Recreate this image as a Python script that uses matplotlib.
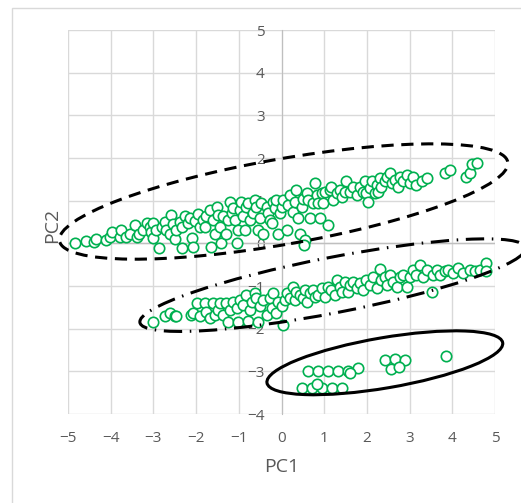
import matplotlib
matplotlib.use("Agg")
import matplotlib.pyplot as plt
import matplotlib.patches as patches

plt.rcParams['font.family'] = ['Open Sans', 'DejaVu Sans']

# Groupe du haut
pc1_haut = [-4.84, -4.59, -4.39, -4.34, -4.12, -4.02, -3.98, -3.79, -3.75, -3.63, -3.55, -3.44, -3.38, -3.34,
            -3.24, -3.16, -3.09, -3.05, -3.02, -3.01, -2.93, -2.87, -2.81, -2.73, -2.70, -2.62, -2.58, -2.54,
            -2.50, -2.46, -2.38, -2.34, -2.32, -2.27, -2.19, -2.15, -2.09, -2.07, -2.03, -1.95, -1.91, -1.84,
            -1.80, -1.76, -1.68, -1.64, -1.60, -1.56, -1.52, -1.48, -1.45, -1.41, -1.37, -1.29, -1.25, -1.21,
            -1.17, -1.13, -1.09, -1.05, -1.02, -0.98, -0.94, -0.90, -0.86, -0.82, -0.78, -0.74, -0.66, -0.63,
            -0.59, -0.55, -0.51, -0.47, -0.43, -0.35, -0.31, -0.27, -0.23, -0.20, -0.16, -0.12, -0.08, -0.04,
            0.00, 0.04, 0.12, 0.16, 0.20, 0.27, 0.31, 0.35, 0.39, 0.43, 0.47, 0.51, 0.55, 0.59, 0.63, 0.66,
            0.74, 0.78, 0.82, 0.86, 0.90, 0.94, 0.98, 1.02, 1.09, 1.13, 1.17, 1.21, 1.29, 1.37, 1.41, 1.48,
            1.52, 1.60, 1.68, 1.76, 1.84, 1.91, 1.95, 1.99, 2.03, 2.07, 2.11, 2.19, 2.23, 2.27, 2.30, 2.34,
            2.42, 2.46, 2.54, 2.58, 2.66, 2.73, 2.77, 2.85, 2.93, 3.01, 3.09, 3.16, 3.28, 3.40, 3.83, 3.95,
            4.32, 4.41, 4.45, 4.57, 0.52]
pc2_haut = [0.00, 0.06, 0.02, 0.10, 0.08, 0.14, 0.26, 0.14, 0.31, 0.15, 0.23, 0.42, 0.14, 0.23,
            0.31, 0.47, 0.39, 0.26, 0.12, 0.48, 0.31, -0.12, 0.39, 0.51, 0.31, 0.23, 0.66, 0.45,
            0.09, 0.31, 0.51, -0.12, 0.39, 0.63, 0.48, 0.59, 0.12, -0.08, 0.52, 0.69, 0.39, 0.55,
            0.39, 0.63, 0.78, -0.08, 0.55, 0.23, 0.86, 0.66, 0.39, 0.00, 0.63, 0.23, 0.55, 0.98,
            0.70, 0.82, 0.55, 0.00, 0.31, 0.78, 0.98, 0.63, 0.31, 0.86, 0.94, 0.55, 0.70, 1.02,
            0.86, 0.31, 0.59, 0.94, 0.23, 0.86, 0.70, 0.55, 0.47, 0.98, 0.82, 1.02, 0.23, 0.70,
            0.86, 1.02, 0.31, 0.90, 1.13, 0.74, 0.98, 1.25, 0.59, 0.23, 0.86, 1.05, 0.08, 1.17, 1.02, 0.59,
            0.94, 1.41, 1.13, 0.94, 0.59, 1.17, 0.94, 1.21, 0.43, 1.25, 1.33, 1.02, 1.17, 1.25, 1.09, 1.21,
            1.45, 1.21, 1.33, 1.13, 1.33, 1.21, 1.45, 1.17, 0.98, 1.29, 1.45, 1.17, 1.37, 1.21, 1.52, 1.33,
            1.45, 1.56, 1.64, 1.41, 1.48, 1.33, 1.56, 1.45, 1.60, 1.41, 1.56, 1.37, 1.45, 1.52, 1.66, 1.73,
            1.56, 1.66, 1.86, 1.89, -0.05]

# Groupe du milieu
pc1_milieu = [-3.00, -2.73, -2.62, -2.50, -2.46, -2.11, -2.07, -1.99, -1.91, -1.80, -1.76, -1.68, -1.60,
              -1.56, -1.48, -1.45, -1.37, -1.29, -1.25, -1.21, -1.13, -1.05, -1.02, -0.98, -0.90, -0.82,
              -0.78, -0.74, -0.70, -0.63, -0.59, -0.55, -0.51, -0.43, -0.35, -0.27, -0.23, -0.20, -0.12,
              -0.08, 0.00, 0.04, 0.08, 0.12, 0.20, 0.27, 0.31, 0.35, 0.43, 0.51, 0.55, 0.59, 0.66, 0.74,
              0.78, 0.86, 0.94, 1.02, 1.09, 1.17, 1.25, 1.29, 1.37, 1.41, 1.48, 1.56, 1.60, 1.68, 1.76,
              1.84, 1.91, 1.99, 2.07, 2.15, 2.23, 2.30, 2.34, 2.42, 2.46, 2.54, 2.62, 2.70, 2.77, 2.85,
              2.93, 3.01, 3.09, 3.16, 3.24, 3.32, 3.40, 3.52, 3.55, 3.63, 3.71, 3.83, 3.91, 4.02, 4.14,
              4.26, 4.41, 4.53, 4.65, 4.80, 4.80]
pc2_milieu = [-1.84, -1.70, -1.64, -1.71, -1.70, -1.68, -1.64, -1.39, -1.70, -1.41, -1.60, -1.76, -1.41,
              -1.68, -1.56, -1.39, -1.68, -1.41, -1.84, -1.56, -1.37, -1.52, -1.84, -1.33, -1.45, -1.21,
              -1.82, -1.56, -1.37, -1.17, -1.29, -1.84, -1.48, -1.33, -1.68, -1.29, -1.52, -1.17, -1.64,
              -1.37, -1.48, -1.91, -1.33, -1.17, -1.29, -1.02, -1.33, -1.13, -1.21, -1.29, -1.09, -1.37, -1.17, -1.09,
              -1.25, -1.21, -1.05, -1.25, -1.02, -1.09, -1.21, -0.86, -1.02, -1.13, -0.90, -1.13, -0.98, -0.90, -1.05,
              -0.94, -1.09, -0.86, -0.98, -0.78, -1.05, -0.61, -0.86, -0.78, -0.98, -0.74, -0.90, -1.02, -0.78, -0.74,
              -1.02, -0.78, -0.63, -0.74, -0.51, -0.78, -0.63, -1.13, -0.74, -0.63, -0.74, -0.66, -0.63, -0.70, -0.57,
              -0.70, -0.63, -0.66, -0.63, -0.45, -0.64]

# Groupe du bas
pc1_bas = [0.63, 0.86, 1.10, 1.33, 1.56, 1.80, 1.60, 0.47, 0.71, 0.94, 1.18, 1.41, 0.82,
           2.42, 2.66, 2.89, 2.56, 2.76, 3.85]
pc2_bas = [-2.99, -2.99, -2.99, -2.99, -2.99, -2.93, -3.04, -3.39, -3.39, -3.39, -3.39, -3.39, -3.29,
           -2.74, -2.71, -2.73, -2.94, -2.91, -2.63]

ticks_x = [-5, -4, -3, -2, -1, 0, 1, 2, 3, 4, 5]
ticks_y = [-4, -3, -2, -1, 0, 1, 2, 3, 4, 5]

vert = '#00B050'
gris = '#595959'

fig = plt.figure(figsize=(5.21, 5.03), dpi=100)
ax = fig.add_axes([68 / 521, 89 / 503, 427 / 521, 384 / 503])

# cadre du graphique
cadre = patches.Rectangle((12 / 521, -0.1), 1.2, (503 - 8) / 503 + 0.1, transform=fig.transFigure,
                          fill=False, edgecolor='#d9d9d9', linewidth=1.0)
fig.patches.append(cadre)

for x, y in [(pc1_haut, pc2_haut), (pc1_milieu, pc2_milieu), (pc1_bas, pc2_bas)]:
    ax.scatter(x, y, s=56, facecolors='white', edgecolors=vert, linewidths=1.2, zorder=3)

# Ellipses
e1 = patches.Ellipse((0.05, 0.98), 10.66, 2.0, angle=10, fill=False, edgecolor='black',
                     linewidth=2.2, linestyle=(0, (4, 2.5)), clip_on=False, zorder=4)
e2 = patches.Ellipse((1.2, -0.98), 9.2, 1.3, angle=11, fill=False, edgecolor='black',
                     linewidth=2.2, linestyle=(0, (6, 2.5, 0.5, 2.5)), clip_on=False, zorder=4)
e3 = patches.Ellipse((2.42, -2.8), 5.6, 1.18, angle=9.7, fill=False, edgecolor='black',
                     linewidth=2.2, clip_on=False, zorder=4)
for e in (e1, e2, e3):
    ax.add_patch(e)

ax.set_xlim(-5, 5)
ax.set_ylim(-4, 5)
ax.set_xticks(ticks_x)
ax.set_yticks(ticks_y)
ax.grid(True, color='#d9d9d9', linewidth=1.0, zorder=0)
ax.set_axisbelow(True)
for s in ['top', 'right', 'bottom']:
    ax.spines[s].set_visible(False)
ax.spines['left'].set_position(('data', 0))
ax.spines['left'].set_color('#bfbfbf')
ax.axhline(0, color='#bfbfbf', linewidth=1.0, zorder=1)
ax.tick_params(axis='both', length=0, labelsize=11, labelcolor=gris)
ax.tick_params(axis='x', pad=12)
ax.tick_params(axis='y', pad=12)

fig.text(281.5 / 521, 1 - 467 / 503, 'PC1', ha='center', va='center', fontsize=14, color=gris)
fig.text(52 / 521, 1 - 225 / 503, 'PC2', ha='center', va='center', fontsize=14, color=gris, rotation=90)

fig.savefig('out.png', dpi=100)
